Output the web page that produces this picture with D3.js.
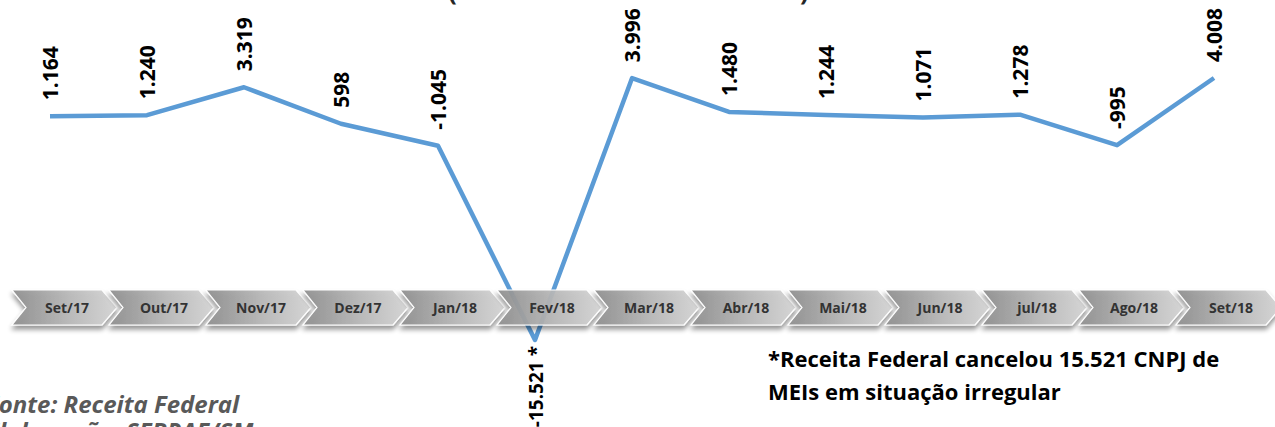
<!DOCTYPE html>
<html>
<head>
<meta charset="utf-8">
<script src="https://cdn.jsdelivr.net/npm/d3@7"></script>
<style>
  body { margin: 0; background: #fff; }
  svg { display: block; }
</style>
</head>
<body>
<div id="chart"></div>
<script>
var months = ['Set/17', 'Out/17', 'Nov/17', 'Dez/17', 'Jan/18', 'Fev/18', 'Mar/18',
              'Abr/18', 'Mai/18', 'Jun/18', 'jul/18', 'Ago/18', 'Set/18'];
var saldo = [1164, 1240, 3319, 598, -1045, -15521, 3996, 1480, 1244, 1071, 1278, -995, 4008];
var rotulos = ['1.164', '1.240', '3.319', '598', '-1.045', '-15.521 *', '3.996',
               '1.480', '1.244', '1.071', '1.278', '-995', '4.008'];

var width = 1275;
var height = 427;

var svg = d3.select('#chart')
    .append('svg')
    .attr('width', width)
    .attr('height', height);

var defs = svg.append('defs');

var grad = defs.append('linearGradient')
    .attr('id', 'chevGrad')
    .attr('x1', '0%').attr('y1', '0%')
    .attr('x2', '100%').attr('y2', '0%');
grad.append('stop').attr('offset', '0%').attr('stop-color', '#8e8e8e');
grad.append('stop').attr('offset', '55%').attr('stop-color', '#b9b9b9');
grad.append('stop').attr('offset', '100%').attr('stop-color', '#d6d6d6');

var shadow = defs.append('filter')
    .attr('id', 'shadow')
    .attr('x', '-10%').attr('y', '-20%')
    .attr('width', '130%').attr('height', '160%');
shadow.append('feGaussianBlur').attr('in', 'SourceAlpha').attr('stdDeviation', 2.5);
shadow.append('feOffset').attr('dx', 0).attr('dy', 4).attr('result', 'off');
shadow.append('feComponentTransfer')
    .append('feFuncA').attr('type', 'linear').attr('slope', 0.45);
var merge = shadow.append('feMerge');
merge.append('feMergeNode');
merge.append('feMergeNode').attr('in', 'SourceGraphic');

var x = d3.scalePoint()
    .domain(months)
    .range([50, 1214]);

var y = d3.scaleLinear()
    .domain([-15521, 4008])
    .range([340, 78]);

var data = months.map(function(m, i) {
    return { mes: m, valor: saldo[i], rotulo: rotulos[i] };
});

// title (only the bottom of the brackets shows in the crop)
svg.append('text')
    .attr('x', 448).attr('y', 0)
    .style('font', 'bold 26px "Open Sans", sans-serif')
    .style('fill', '#262626')
    .text('(');
svg.append('text')
    .attr('x', 800).attr('y', 0)
    .style('font', 'bold 26px "Open Sans", sans-serif')
    .style('fill', '#262626')
    .text(')');

// line
var line = d3.line()
    .x(function(d) { return x(d.mes); })
    .y(function(d) { return y(d.valor); });

svg.append('path')
    .datum(data)
    .attr('d', line)
    .attr('fill', 'none')
    .attr('stroke', '#5b9bd5')
    .attr('stroke-width', 4.5)
    .attr('stroke-linejoin', 'round');

// chevron timeline, drawn over the line
var chevTop = 290, chevBot = 325, chevMid = (chevTop + chevBot) / 2;
function chevron(cx) {
    var l = cx - 38, r = cx + 52, tip = cx + 67, notch = cx - 24;
    return 'M' + l + ',' + chevTop + 'L' + r + ',' + chevTop + 'L' + tip + ',' + chevMid +
           'L' + r + ',' + chevBot + 'L' + l + ',' + chevBot + 'L' + notch + ',' + chevMid + 'Z';
}

var chev = svg.append('g').attr('class', 'timeline')
    .selectAll('g')
    .data(data)
    .enter().append('g');

chev.append('path')
    .attr('d', function(d) { return chevron(x(d.mes)); })
    .attr('fill', 'url(#chevGrad)')
    .attr('fill-opacity', 0.93)
    .attr('stroke', '#ffffff')
    .attr('stroke-width', 1.2)
    .attr('filter', 'url(#shadow)');

chev.append('text')
    .attr('x', function(d) { return x(d.mes) + 17; })
    .attr('y', chevMid + 5)
    .attr('text-anchor', 'middle')
    .style('font', 'bold 14px "Open Sans", sans-serif')
    .style('fill', '#333333')
    .text(function(d) { return d.mes; });

// value labels, rotated
svg.append('g').selectAll('text')
    .data(data)
    .enter().append('text')
    .attr('transform', function(d) {
        var px = x(d.mes) + 8;
        var py = d.valor < -10000 ? y(d.valor) + 6 : y(d.valor) - 16;
        return 'translate(' + px + ',' + py + ')rotate(-90)';
    })
    .attr('text-anchor', function(d) { return d.valor < -10000 ? 'end' : 'start'; })
    .style('font', function(d) {
        return 'bold ' + (d.valor < -10000 ? 19 : 21) + 'px "Open Sans", sans-serif';
    })
    .style('fill', '#000')
    .text(function(d) { return d.rotulo; });

// footnote
var nota = svg.append('text')
    .style('font', 'bold 22px "Open Sans", sans-serif')
    .style('fill', '#000');
nota.append('tspan').attr('x', 768).attr('y', 367).text('*Receita Federal cancelou 15.521 CNPJ de');
nota.append('tspan').attr('x', 768).attr('y', 400).text('MEIs em situação irregular');

// source
var fonte = svg.append('text')
    .style('font', 'italic bold 24px "Open Sans", sans-serif')
    .style('fill', '#595959');
fonte.append('tspan').attr('x', -14).attr('y', 413).text('Fonte: Receita Federal');
fonte.append('tspan').attr('x', -14).attr('y', 440).text('Elaboração: SEBRAE/SM');
</script>
</body>
</html>
